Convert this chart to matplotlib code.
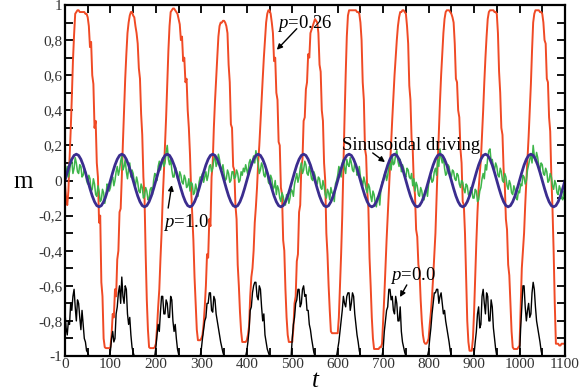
import matplotlib
matplotlib.use('Agg')
import matplotlib.pyplot as plt
from matplotlib.ticker import MultipleLocator

plt.rcParams['font.family'] = 'Liberation Serif'
plt.rcParams['mathtext.fontset'] = 'custom'
plt.rcParams['mathtext.it'] = 'Liberation Serif:italic'
plt.rcParams['mathtext.rm'] = 'Liberation Serif'

# fine time grid (every 2.5) for the noisy runs, coarse one (every 5) for the driving
t_fine = [i * 2.5 for i in range(441)]
t = list(range(0, 1101, 5))

# p = 0.26 (red), one row per half period
m_p026 = [
    -0.02, -0.10, -0.14, -0.06, 0.12, 0.28, 0.47, 0.68, 0.83, 0.95, 0.96, 0.97, 0.97, 0.96, 0.96, 0.96, 0.96, 0.96, 0.95, 0.95,
    0.93, 0.88, 0.76, 0.79, 0.60, 0.55, 0.30, 0.34, 0.10, 0.02, -0.24, -0.20, -0.58, -0.66, -0.90, -0.95, -0.955, -0.955, -0.955, -0.955,
    -0.95, -0.88, -0.76, -0.78, -0.62, -0.66, -0.45, -0.40, -0.18, -0.16, 0.02, 0.22, 0.40, 0.58, 0.72, 0.84, 0.90, 0.94, 0.96, 0.96,
    0.94, 0.93, 0.88, 0.84, 0.78, 0.64, 0.58, 0.38, 0.26, 0.02, -0.10, -0.42, -0.68, -0.85, -0.95, -0.955, -0.955, -0.955, -0.955, -0.95,
    -0.93, -0.84, -0.72, -0.62, -0.45, -0.30, -0.10, 0.04, 0.20, 0.36, 0.55, 0.74, 0.88, 0.96, 0.97, 0.98, 0.98, 0.97, 0.96, 0.95,
    0.92, 0.89, 0.80, 0.82, 0.68, 0.70, 0.56, 0.58, 0.40, 0.30, 0.15, -0.05, -0.20, -0.34, -0.55, -0.70, -0.85, -0.91, -0.91, -0.91,
    -0.90, -0.88, -0.82, -0.72, -0.60, -0.42, -0.44, -0.22, -0.26, 0.02, 0.10, 0.30, 0.45, 0.58, 0.70, 0.82, 0.88, 0.90, 0.90, 0.91,
    0.91, 0.90, 0.88, 0.84, 0.66, 0.56, 0.32, 0.30, 0.08, 0.06, -0.14, -0.22, -0.48, -0.60, -0.75, -0.86, -0.92, -0.92, -0.92, -0.92,
    -0.91, -0.88, -0.83, -0.66, -0.55, -0.50, -0.40, -0.24, -0.15, -0.04, 0.10, 0.20, 0.33, 0.46, 0.58, 0.70, 0.80, 0.90, 0.95, 0.97,
    0.97, 0.95, 0.90, 0.84, 0.68, 0.70, 0.50, 0.46, 0.22, 0.20, -0.04, -0.08, -0.34, -0.40, -0.62, -0.78, -0.88, -0.92, -0.92, -0.92,
    -0.92, -0.84, -0.70, -0.66, -0.46, -0.42, -0.18, -0.14, 0.08, 0.12, 0.34, 0.36, 0.52, 0.56, 0.72, 0.70, 0.84, 0.86, 0.88, 0.90,
    0.92, 0.91, 0.90, 0.84, 0.66, 0.62, 0.40, 0.34, 0.10, 0.00, -0.30, -0.42, -0.60, -0.74, -0.86, -0.87, -0.87, -0.87, -0.87, -0.87,
    -0.87, -0.78, -0.60, -0.42, -0.20, 0.08, 0.35, 0.60, 0.82, 0.94, 0.97, 0.97, 0.97, 0.97, 0.97, 0.97, 0.97, 0.96, 0.96, 0.95,
    0.90, 0.80, 0.56, 0.46, 0.18, 0.14, -0.06, -0.16, -0.44, -0.60, -0.78, -0.90, -0.96, -0.96, -0.96, -0.96, -0.96, -0.95, -0.95, -0.93,
    -0.80, -0.66, -0.50, -0.34, -0.20, -0.06, 0.08, 0.22, 0.35, 0.48, 0.60, 0.70, 0.80, 0.88, 0.93, 0.96, 0.96, 0.97, 0.97, 0.96,
    0.95, 0.88, 0.78, 0.54, 0.46, 0.24, 0.18, -0.02, -0.08, -0.28, -0.32, -0.48, -0.52, -0.68, -0.80, -0.88, -0.92, -0.93, -0.93, -0.92,
    -0.90, -0.82, -0.75, -0.66, -0.55, -0.42, -0.30, -0.10, 0.10, 0.28, 0.45, 0.60, 0.72, 0.84, 0.92, 0.96, 0.97, 0.97, 0.97, 0.96,
    0.95, 0.93, 0.90, 0.78, 0.58, 0.56, 0.40, 0.36, 0.18, 0.10, -0.12, -0.14, -0.30, -0.56, -0.80, -0.92, -0.97, -0.97, -0.97, -0.90,
    -0.75, -0.55, -0.35, -0.18, -0.05, 0.04, 0.12, 0.26, 0.40, 0.56, 0.70, 0.82, 0.92, 0.96, 0.97, 0.97, 0.97, 0.97, 0.96, 0.96,
    0.95, 0.84, 0.62, 0.50, 0.30, 0.26, 0.06, -0.02, -0.22, -0.28, -0.48, -0.54, -0.70, -0.86, -0.95, -0.96, -0.96, -0.96, -0.96, -0.95,
    -0.94, -0.72, -0.50, -0.40, -0.30, -0.14, 0.00, 0.12, 0.25, 0.40, 0.55, 0.74, 0.90, 0.95, 0.97, 0.97, 0.97, 0.97, 0.96, 0.96,
    0.95, 0.90, 0.80, 0.78, 0.58, 0.56, 0.36, 0.28, 0.02, -0.16, -0.40, -0.70, -0.93, -0.93, -0.93, -0.94, -0.94, -0.93, -0.93, -0.93,
    -0.93,
]

# p = 1.0 (green)
m_p10 = [
    0.00, 0.05, 0.08, 0.02, 0.05, 0.12, 0.11, 0.04, 0.07, 0.13, 0.10, 0.05, 0.04, 0.09, 0.08, 0.02, 0.03, 0.07, 0.05, 0.00,
    -0.02, 0.03, 0.01, -0.06, -0.05, 0.01, -0.02, -0.08, -0.09, -0.03, -0.06, -0.12, -0.11, -0.05, -0.07, -0.13, -0.09, -0.02, -0.03, -0.06,
    -0.04, 0.01, 0.02, -0.03, 0.00, 0.05, 0.08, 0.03, 0.06, 0.11, 0.14, 0.06, 0.08, 0.12, 0.05, 0.01, 0.07, 0.10, 0.02, 0.06,
    0.04, -0.01, -0.03, 0.02, -0.01, -0.06, -0.07, -0.02, -0.04, -0.10, -0.09, -0.04, -0.06, -0.11, -0.10, -0.05, -0.04, -0.08, 0.00, 0.04,
    0.03, 0.00, 0.08, 0.11, 0.06, 0.09, 0.13, 0.08, 0.10, 0.16, 0.20, 0.12, 0.09, 0.13, 0.06, 0.02, 0.02, 0.08, 0.06, 0.01,
    0.00, 0.05, 0.03, -0.01, -0.02, 0.03, 0.01, -0.04, -0.03, 0.01, -0.06, -0.01, -0.02, -0.08, -0.07, -0.02, -0.05, -0.09, -0.01, 0.02,
    0.02, 0.04, -0.01, 0.02, 0.05, 0.00, 0.03, 0.08, 0.09, 0.05, 0.07, 0.12, 0.14, 0.08, 0.10, 0.15, 0.12, 0.07, 0.06, 0.09,
    0.04, 0.00, 0.01, 0.06, 0.04, -0.01, 0.00, 0.05, 0.05, 0.01, 0.02, 0.06, 0.04, -0.01, 0.00, 0.05, 0.03, 0.07, 0.05, 0.09,
    0.06, 0.03, 0.10, 0.12, 0.08, 0.11, 0.14, 0.10, 0.17, 0.13, 0.10, 0.04, 0.06, 0.10, 0.08, 0.03, 0.02, 0.07, 0.04, -0.01,
    -0.02, 0.03, 0.01, -0.05, -0.04, 0.00, -0.08, -0.03, -0.05, -0.10, -0.12, -0.07, -0.09, -0.13, -0.14, -0.08, -0.08, -0.13, -0.10, -0.05,
    -0.06, -0.09, -0.02, 0.01, 0.04, -0.01, 0.02, 0.07, 0.10, 0.04, 0.06, 0.11, 0.09, 0.04, 0.03, 0.08, 0.05, 0.01, 0.00, 0.05,
    0.03, -0.01, -0.02, 0.02, 0.01, -0.04, -0.05, 0.00, -0.03, -0.08, -0.10, -0.05, -0.07, -0.11, -0.04, -0.07, -0.08, -0.12, -0.02, 0.00,
    0.03, 0.08, 0.06, 0.02, 0.10, 0.12, 0.07, 0.04, 0.12, 0.09, 0.08, 0.13, 0.10, 0.06, 0.05, 0.10, 0.09, 0.03, 0.04, 0.08,
    0.02, 0.00, -0.03, 0.02, -0.01, -0.05, -0.07, -0.02, -0.04, -0.09, -0.12, -0.06, -0.08, -0.13, -0.15, -0.10, -0.09, -0.14, -0.05, -0.01,
    0.00, 0.03, 0.05, 0.00, 0.03, 0.08, 0.10, 0.06, 0.14, 0.09, 0.10, 0.15, 0.17, 0.11, 0.08, 0.12, 0.05, 0.09, 0.07, 0.03,
    0.02, 0.07, 0.06, 0.02, 0.01, 0.04, -0.03, 0.01, -0.06, -0.01, -0.03, -0.08, -0.09, -0.04, -0.06, -0.11, -0.11, -0.06, -0.05, -0.09,
    -0.02, 0.01, 0.03, -0.01, 0.00, 0.05, 0.07, 0.03, 0.12, 0.08, 0.18, 0.13, 0.10, 0.14, 0.07, 0.03, 0.04, 0.09, 0.08, 0.03,
    0.02, 0.06, 0.05, 0.01, 0.00, 0.04, 0.03, -0.02, -0.04, 0.00, -0.01, -0.05, -0.07, -0.02, -0.03, -0.08, -0.09, -0.04, -0.05, -0.10,
    -0.10, -0.05, -0.06, -0.12, -0.11, -0.06, -0.04, 0.01, 0.04, 0.01, 0.09, 0.06, 0.13, 0.17, 0.18, 0.11, 0.12, 0.08, 0.06, 0.10,
    0.08, 0.03, 0.02, 0.07, 0.05, 0.00, -0.01, 0.04, 0.02, -0.03, -0.05, 0.00, -0.02, -0.07, -0.08, -0.03, -0.05, -0.10, -0.11, -0.06,
    -0.07, -0.02, -0.03, 0.03, 0.02, -0.02, 0.00, 0.06, 0.09, 0.12, 0.15, 0.10, 0.20, 0.14, 0.11, 0.16, 0.13, 0.08, 0.06, 0.10,
    0.09, 0.04, 0.03, 0.07, 0.05, -0.01, 0.00, 0.04, 0.02, -0.03, -0.05, 0.00, -0.02, -0.07, -0.08, -0.03, -0.05, -0.10, -0.11, -0.06,
    -0.07,
]

# p = 0.0 (black)
m_p00 = [
    -0.75, -0.84, -0.88, -0.80, -0.82, -0.70, -0.74, -0.66, -0.62, -0.72, -0.80, -0.68, -0.70, -0.78, -0.85, -0.74, -0.82, -0.90, -0.92, -0.97,
    -0.98, -1, -1, -1, -1, -1, -1, -1, -1, -1, -1, -1, -1, -1, -1, -1, -1, -1, -1, -1,
    -0.97, -0.90, -0.86, -0.92, -0.90, -0.76, -0.72, -0.64, -0.60, -0.70, -0.55, -0.66, -0.70, -0.60, -0.62, -0.76, -0.82, -0.78, -0.88, -0.95,
    -0.98, -1, -1, -1, -1, -1, -1, -1, -1, -1, -1, -1, -1, -1, -1, -1, -1, -1, -1, -1,
    -0.95, -0.88, -0.82, -0.86, -0.75, -0.66, -0.66, -0.76, -0.76, -0.68, -0.70, -0.78, -0.78, -0.66, -0.68, -0.80, -0.86, -0.82, -0.90, -0.96,
    -0.99, -1, -1, -1, -1, -1, -1, -1, -1, -1, -1, -1, -1, -1, -1, -1, -1, -1, -1, -1,
    -0.96, -0.90, -0.85, -0.80, -0.78, -0.70, -0.70, -0.64, -0.64, -0.74, -0.75, -0.66, -0.68, -0.76, -0.80, -0.84, -0.88, -0.92, -0.95, -0.98,
    -1, -1, -1, -1, -1, -1, -1, -1, -1, -1, -1, -1, -1, -1, -1, -1, -1, -1, -1, -1,
    -0.97, -0.92, -0.85, -0.74, -0.72, -0.64, -0.60, -0.58, -0.58, -0.66, -0.68, -0.60, -0.62, -0.72, -0.80, -0.76, -0.88, -0.92, -0.96, -0.98,
    -1, -1, -1, -1, -1, -1, -1, -1, -1, -1, -1, -1, -1, -1, -1, -1, -1, -1, -1, -1,
    -0.90, -0.82, -0.78, -0.70, -0.68, -0.62, -0.62, -0.72, -0.70, -0.62, -0.60, -0.66, -0.65, -0.74, -0.74, -0.82, -0.85, -0.90, -0.94, -0.98,
    -1, -1, -1, -1, -1, -1, -1, -1, -1, -1, -1, -1, -1, -1, -1, -1, -1, -1, -1, -1,
    -0.96, -0.92, -0.86, -0.80, -0.74, -0.66, -0.70, -0.72, -0.66, -0.64, -0.64, -0.74, -0.70, -0.64, -0.66, -0.76, -0.82, -0.88, -0.92, -0.97,
    -1, -1, -1, -1, -1, -1, -1, -1, -1, -1, -1, -1, -1, -1, -1, -1, -1, -1, -1, -1,
    -0.96, -0.86, -0.80, -0.74, -0.72, -0.62, -0.62, -0.68, -0.66, -0.74, -0.76, -0.66, -0.70, -0.80, -0.80, -0.72, -0.86, -0.92, -0.95, -0.98,
    -1, -1, -1, -1, -1, -1, -1, -1, -1, -1, -1, -1, -1, -1, -1, -1, -1, -1, -1, -1,
    -0.97, -0.90, -0.84, -0.76, -0.70, -0.64, -0.64, -0.62, -0.62, -0.70, -0.66, -0.64, -0.70, -0.76, -0.74, -0.80, -0.84, -0.88, -0.92, -0.97,
    -1, -1, -1, -1, -1, -1, -1, -1, -1, -1, -1, -1, -1, -1, -1, -1, -1, -1, -1, -1,
    -0.99, -0.92, -0.86, -0.76, -0.72, -0.84, -0.82, -0.66, -0.62, -0.70, -0.76, -0.64, -0.66, -0.80, -0.80, -0.68, -0.72, -0.84, -0.90, -0.96,
    -1, -1, -1, -1, -1, -1, -1, -1, -1, -1, -1, -1, -1, -1, -1, -1, -1, -1, -1, -1,
    -1, -0.84, -0.72, -0.60, -0.60, -0.72, -0.80, -0.74, -0.70, -0.78, -0.76, -0.64, -0.58, -0.62, -0.72, -0.80, -0.84, -0.88, -0.92, -0.97,
    -1, -1, -1, -1, -1, -1, -1, -1, -1, -1, -1, -1, -1, -1, -1, -1, -1, -1, -1, -1,
    -1,
]

# sinusoidal driving (blue), one row per period
drive = [
    0, .046, .088, .121, .143, .150, .143, .121, .088, .046, 0, -.046, -.088, -.121, -.143, -.150, -.143, -.121, -.088, -.046,
    0, .046, .088, .121, .143, .150, .143, .121, .088, .046, 0, -.046, -.088, -.121, -.143, -.150, -.143, -.121, -.088, -.046,
    0, .046, .088, .121, .143, .150, .143, .121, .088, .046, 0, -.046, -.088, -.121, -.143, -.150, -.143, -.121, -.088, -.046,
    0, .046, .088, .121, .143, .150, .143, .121, .088, .046, 0, -.046, -.088, -.121, -.143, -.150, -.143, -.121, -.088, -.046,
    0, .046, .088, .121, .143, .150, .143, .121, .088, .046, 0, -.046, -.088, -.121, -.143, -.150, -.143, -.121, -.088, -.046,
    0, .046, .088, .121, .143, .150, .143, .121, .088, .046, 0, -.046, -.088, -.121, -.143, -.150, -.143, -.121, -.088, -.046,
    0, .046, .088, .121, .143, .150, .143, .121, .088, .046, 0, -.046, -.088, -.121, -.143, -.150, -.143, -.121, -.088, -.046,
    0, .046, .088, .121, .143, .150, .143, .121, .088, .046, 0, -.046, -.088, -.121, -.143, -.150, -.143, -.121, -.088, -.046,
    0, .046, .088, .121, .143, .150, .143, .121, .088, .046, 0, -.046, -.088, -.121, -.143, -.150, -.143, -.121, -.088, -.046,
    0, .046, .088, .121, .143, .150, .143, .121, .088, .046, 0, -.046, -.088, -.121, -.143, -.150, -.143, -.121, -.088, -.046,
    0, .046, .088, .121, .143, .150, .143, .121, .088, .046, 0, -.046, -.088, -.121, -.143, -.150, -.143, -.121, -.088, -.046,
    0,
]

xtick_vals = [0, 100, 200, 300, 400, 500, 600, 700, 800, 900, 1000, 1100]
ytick_vals = [-1, -0.8, -0.6, -0.4, -0.2, 0, 0.2, 0.4, 0.6, 0.8, 1]
ytick_labels = ['-1', '-0,8', '-0,6', '-0,4', '-0,2', '0', '0,2', '0,4', '0,6', '0,8', '1']

fig = plt.figure(figsize=(5.87, 3.92), dpi=100)
ax = fig.add_axes([0.1107, 0.0918, 0.8518, 0.8954])

ax.plot(t_fine, m_p026, color='#f04a25', lw=1.4)
ax.plot(t_fine, m_p00, color='black', lw=1.0)
ax.plot(t_fine, m_p10, color='#3db54a', lw=1.1)
ax.plot(t, drive, color='#3b2d8f', lw=2.0)

ax.set_xlim(0, 1100)
ax.set_ylim(-1, 1)
ax.set_xticks(xtick_vals)
ax.set_yticks(ytick_vals)
ax.set_yticklabels(ytick_labels)
ax.xaxis.set_minor_locator(MultipleLocator(50))
ax.yaxis.set_minor_locator(MultipleLocator(0.1))
ax.tick_params(which='both', direction='in', top=True, right=True,
               length=6, width=1.3, labelsize=11, labelcolor='#333333')
ax.tick_params(axis='x', pad=1.5)
ax.tick_params(axis='y', pad=2)
for s in ax.spines.values():
    s.set_linewidth(1.6)

fig.text(23 / 587, 1 - 182 / 392, 'm', fontsize=18, ha='center', va='center')
fig.text(315 / 587, 1 - 381 / 392, 't', fontsize=18, style='italic', ha='center', va='center')

arrow = dict(arrowstyle='-|>', color='black', lw=1.0, mutation_scale=8, shrinkA=0, shrinkB=0)
ax.text(466, 0.87, '$p$=0.26', fontsize=13.5, ha='left', va='baseline')
ax.annotate('', xy=(466, 0.745), xytext=(510, 0.865), arrowprops=arrow)
ax.text(609, 0.174, 'Sinusoidal driving', fontsize=13.5, ha='left', va='baseline')
ax.annotate('', xy=(704, 0.105), xytext=(677, 0.157), arrowprops=arrow)
ax.text(216, -0.263, '$p$=1.0', fontsize=13.5, ha='left', va='baseline')
ax.annotate('', xy=(235, -0.026), xytext=(227, -0.157), arrowprops=arrow)
ax.text(715, -0.567, '$p$=0.0', fontsize=13.5, ha='left', va='baseline')
ax.annotate('', xy=(737, -0.664), xytext=(752, -0.595), arrowprops=arrow)

fig.savefig('out.png', dpi=100)
